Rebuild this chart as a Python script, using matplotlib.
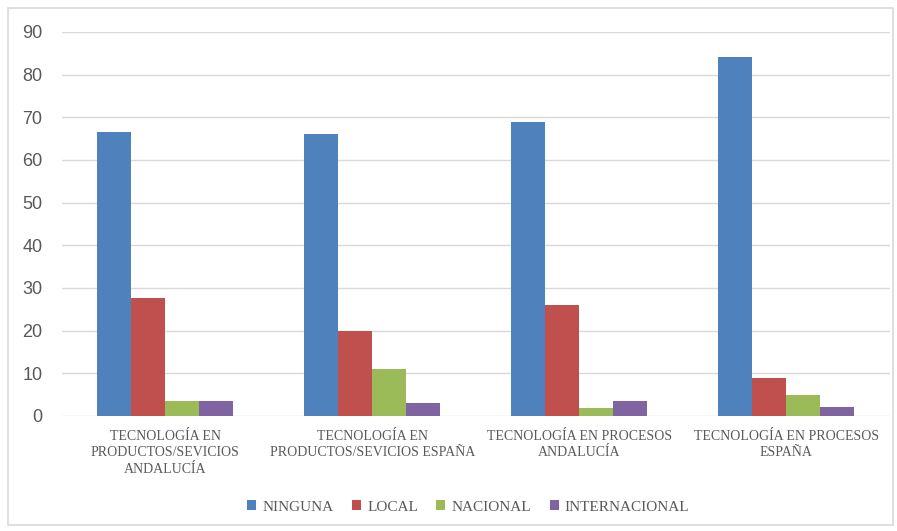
import numpy as np
import matplotlib
matplotlib.use("Agg")
import matplotlib.pyplot as plt
from matplotlib.patches import Rectangle

categories = [
    "TECNOLOGÍA EN\nPRODUCTOS/SEVICIOS\nANDALUCÍA",
    "TECNOLOGÍA EN\nPRODUCTOS/SEVICIOS ESPAÑA",
    "TECNOLOGÍA EN PROCESOS\nANDALUCÍA",
    "TECNOLOGÍA EN PROCESOS\nESPAÑA",
]
series_names = ["NINGUNA", "LOCAL", "NACIONAL", "INTERNACIONAL"]
ninguna = [66.5, 66.0, 68.9, 84.0]
local = [27.7, 20.0, 26.0, 8.9]
nacional = [3.5, 11.1, 1.9, 4.9]
internacional = [3.5, 3.0, 3.5, 2.0]
yticks = [0, 10, 20, 30, 40, 50, 60, 70, 80, 90]

colors = ["#4F81BD", "#C0504D", "#9BBB59", "#8064A2"]
values = [ninguna, local, nacional, internacional]

fig = plt.figure(figsize=(8.97, 5.31), dpi=100)
ax = fig.add_axes([0.069, 0.2166, 0.923, 0.7234])

x = np.arange(len(categories))
w = 0.164
for i, (name, vals) in enumerate(zip(series_names, values)):
    ax.bar(x + (i - 1.5) * w, vals, w, color=colors[i], label=name, zorder=3)

ax.set_xlim(-0.5, len(categories) - 0.5)
ax.set_ylim(0, 90)
ax.set_yticks(yticks)
ax.set_yticklabels([str(t) for t in yticks], fontsize=13, color="#595959",
                   family="Liberation Sans")
ax.set_xticks(x)
ax.set_xticklabels(categories, fontsize=10, color="#595959",
                   family="Liberation Serif", linespacing=1.35)
ax.tick_params(axis="y", length=0, pad=14)
ax.tick_params(axis="x", length=0, pad=10)
ax.grid(axis="y", color="#D9D9D9", linewidth=1, zorder=0)
for s in ax.spines.values():
    s.set_visible(False)

leg = fig.legend(loc="center", bbox_to_anchor=(0.522, 0.045), ncol=4,
                 frameon=False, handlelength=0.6, handleheight=0.6,
                 columnspacing=1.2, handletextpad=0.4,
                 prop={"family": "Liberation Serif", "size": 11})
for t in leg.get_texts():
    t.set_color("#595959")

fig.patches.append(Rectangle((8 / 897, 6 / 531), 885 / 897, 517 / 531,
                             transform=fig.transFigure, fill=False,
                             edgecolor="#D9D9D9", linewidth=1.2))

plt.savefig("out.png", dpi=100)
